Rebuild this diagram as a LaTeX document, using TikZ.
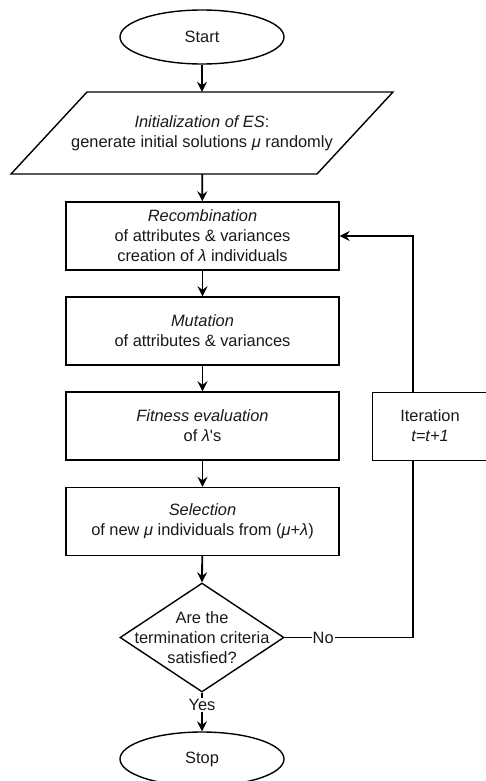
\documentclass[tikz,border=0pt]{standalone}
\usepackage{fontspec}
\setmainfont{Liberation Sans}
\usetikzlibrary{shapes.geometric,arrows.meta}
\begin{document}
\begin{tikzpicture}[x=1pt,y=-1pt,
  every node/.style={font=\fontsize{16.4pt}{20pt}\selectfont, align=center, text=black!90},
  box/.style={draw, line width=1.4pt, minimum width=273pt, minimum height=68pt, inner sep=0pt},
  term/.style={draw, ellipse, line width=1.4pt, minimum width=164pt, minimum height=54pt, inner sep=0pt},
  flow/.style={line width=1.8pt, -{Stealth[length=10pt,width=10pt,inset=3.5pt]}},
  link/.style={line width=1.4pt},
  lbl/.style={fill=white, inner sep=1pt}]
\useasboundingbox (0,0) rectangle (485,781);

% terminals
\node[term] (start) at (202,37) {Start};
\node[term] (stop) at (202,759) {Stop};

% input/initialisation parallelogram
\draw[line width=1.4pt] (87,92) -- (393,92) -- (317,174) -- (11,174) -- cycle;
\node[minimum width=306pt, minimum height=82pt, inner sep=0pt] (init) at (202,133)
  {\textit{Initialization of ES}:\\generate initial solutions \textit{μ} randomly};

% process steps
\node[box] (recomb) at (202.5,236)
  {\textit{Recombination}\\of attributes \& variances\\creation of \textit{λ} individuals};
\node[box] (mut) at (202.5,331)
  {\textit{Mutation}\\of attributes \& variances};
\node[box] (fit) at (202.5,426)
  {\textit{Fitness evaluation}\\of \textit{λ}\textquotesingle s};
\node[box] (sel) at (202.5,521.5)
  {\textit{Selection}\\of new \textit{μ} individuals from (\textit{μ}+\textit{λ})};

% decision
\node[draw, diamond, line width=1.4pt, minimum width=164pt, minimum height=109pt, inner sep=0pt] (dec) at (202,637.5) {};
\node at (dec.center) {Are the\\termination criteria\\satisfied?};

% iteration counter
\node[box, minimum width=115pt, anchor=north west] (iter) at (372,392) {};
\node at (430,426) {Iteration\\\textit{t=t+1}};
\coordinate (iterN) at (413,392);
\coordinate (iterS) at (413,460);

% main flow
\draw[flow] (start) -- (init);
\draw[flow] (init) -- (recomb);
\draw[flow] (recomb) -- (mut);
\draw[flow] (mut) -- (fit);
\draw[flow] (fit) -- (sel);
\draw[flow] (sel) -- (dec.north);
\draw[flow] (dec.south) -- (stop.north) node[lbl, pos=0.32] {Yes};

% loop back
\draw[link] (dec.east) -- (iterS |- dec.east) node[lbl, pos=0.3] {No} -- (iterS);
\draw[link, -{Stealth[length=10pt,width=10pt,inset=3.5pt]}] (iterN) -- (iterN |- recomb.east) -- (recomb.east);
\end{tikzpicture}
\end{document}
